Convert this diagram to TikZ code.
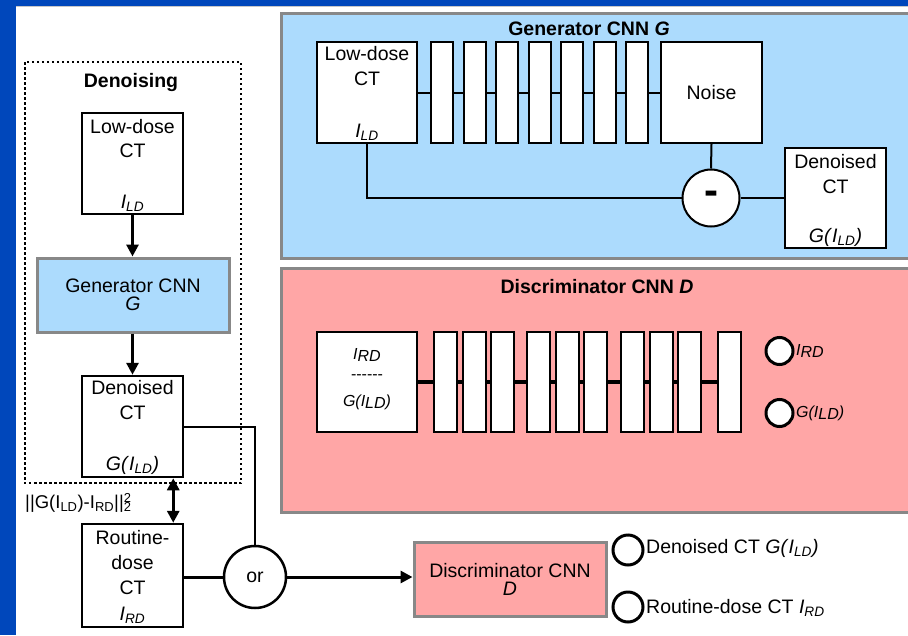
\documentclass[tikz,border=0pt]{standalone}
\usepackage{fontspec}
\setmainfont{Liberation Sans}
\usepackage{tikz}
\usetikzlibrary{arrows.meta,calc}

\definecolor{frameblue}{RGB}{0,71,187}
\definecolor{genblue}{RGB}{172,219,253}
\definecolor{discpink}{RGB}{255,166,166}
\definecolor{panelgrey}{RGB}{136,136,136}

\newcommand{\ILD}{\textit{I}\textsubscript{\textit{LD}}}
\newcommand{\IRD}{\textit{I}\textsubscript{\textit{RD}}}
\newcommand{\dIRD}{\textit{I\raisebox{-2.5pt}{RD}}}
\newcommand{\dILD}{\textit{G(I\raisebox{-2.5pt}{LD})}}
\newcommand{\dashrow}{-\kern0pt-\kern0pt-\kern0pt-\kern0pt-\kern0pt-}

\tikzset{
  txt/.style={inner sep=0pt, font=\fontsize{19.5}{22}\selectfont},
  smalltxt/.style={inner sep=0pt, font=\fontsize{16}{18}\selectfont},
  ttl/.style={inner sep=0pt, font=\fontsize{19.5}{22}\selectfont\bfseries},
  imgbox/.style={draw, line width=2.5pt, fill=white, minimum width=101pt, minimum height=101pt, inner sep=0pt},
  genbox/.style={imgbox, line width=2pt},
  cnnbox/.style={draw=panelgrey, line width=3pt, minimum width=192pt, minimum height=74pt, inner sep=0pt, align=center, font=\fontsize{19.5}{18}\selectfont},
  panel/.style={draw=panelgrey, line width=3pt},
  layer/.style={draw, line width=2pt, fill=white, minimum width=22pt, minimum height=101pt, inner sep=0pt},
  flow/.style={line width=3pt},
  wire/.style={line width=2pt},
  outcircle/.style={circle, draw, line width=3pt, fill=white, minimum size=27pt, inner sep=0pt},
  >={Triangle[length=12pt,width=12pt]}
}

\begin{document}
\begin{tikzpicture}[x=1pt,y=-1pt]
\clip (0,0) rectangle (908,635);
\fill[frameblue] (0,0) rectangle (908,635);
\fill[white] (16,7) rectangle (908,635);
\draw[line width=1pt, black!22] (16,6.5) -- (908,6.5);

% generator
\draw[panel, fill=genblue] (281,13) rectangle (915,258);
\node[ttl] (gtitle) at (589,29) {Generator CNN \textit{G}};
\node[genbox, minimum width=100pt] (gin) at (367,92.5) {};
\node[txt] at (367,54) {Low-dose};
\node[txt] at (367,79) {CT};
\node[txt] at (367,132) {\ILD};
\foreach \i in {1,...,7}
  \node[layer] (gb\i) at ({442+32.5*(\i-1)},92.5) {};
\node[genbox] (noise) at (711.5,92.5) {};
\node[txt] at (711.5,93) {Noise};
\node[circle, draw, line width=2pt, fill=white, minimum size=57pt, inner sep=0pt,
  font=\fontsize{42}{42}\selectfont\bfseries] (minus) at (711,198) {-};
\node[genbox, minimum height=100pt] (gout) at (835.5,198) {};
\node[txt] at (835.5,162) {Denoised};
\node[txt] at (835.5,187) {CT};
\node[txt] at (835.5,237) {\textit{G(}\ILD\textit{)}};
\draw[wire] (gin.east) -- (gb1.west);
\foreach \i [evaluate=\i as \j using int(\i+1)] in {1,...,6}
  \draw[wire] (gb\i.east) -- (gb\j.west);
\draw[wire] (gb7.east) -- (noise.west);
\draw[wire] (noise.south) -- (minus.north);
\draw[wire] (gin.south) |- (minus.west);
\draw[wire] (minus.east) -- (gout.west);

% discriminator
\draw[panel, fill=discpink] (281,268) rectangle (915,512);
\node[ttl] (dtitle) at (597,287) {Discriminator CNN \textit{D}};
\node[imgbox, line width=2pt, minimum width=100pt, minimum height=100pt] (din) at (367,382) {};
\node[smalltxt] at (367,355) {\dIRD};
\node[smalltxt] at (367,377) {\dashrow};
\node[smalltxt] at (367,402) {\dILD};
\foreach \x [count=\i] in {445.5,474.5,502.5,538.5,567.5,595.5,632.5,661.5,689,729.5}
  \node[layer, minimum width=23pt, minimum height=100pt] (db\i) at (\x,382) {};
\draw[line width=3.5pt] (din.east) -- (db1.west);
\foreach \i [evaluate=\i as \j using int(\i+1)] in {1,...,9}
  \draw[line width=3.5pt] (db\i.east) -- (db\j.west);
\node[outcircle] (dreal) at (779.5,351) {};
\node[outcircle] (dfake) at (779.5,413) {};
\node[smalltxt, anchor=west] at (796,351) {\dIRD};
\node[smalltxt, anchor=west] at (796,413) {\dILD};

% denoising column
\draw[line width=2.5pt, dash pattern=on 2.5pt off 2.5pt] (25,62) rectangle (241,483);
\node[ttl] at (131,82) {Denoising};
\node[imgbox] (ld) at (132.5,163.5) {};
\node[txt] at (132.5,127) {Low-dose};
\node[txt] at (132.5,151) {CT};
\node[txt] at (132.5,203) {\ILD};
\node[cnnbox, fill=genblue] (gsmall) at (133,295) {Generator CNN\\\textit{G}};
\node[imgbox] (den) at (132.5,426.5) {};
\node[txt] at (132.5,388) {Denoised};
\node[txt] at (132.5,413) {CT};
\node[txt] at (132.5,465) {\textit{G(}\ILD\textit{)}};
\node[imgbox, minimum height=103pt] (rd) at (132.5,575.5) {};
\node[txt] at (132.5,538) {Routine-};
\node[txt] at (132.5,563) {dose};
\node[txt] at (132.5,588) {CT};
\node[txt] at (132.5,615) {\IRD};
\node[txt, anchor=west, font=\fontsize{18.5}{20}\selectfont] (loss) at (25,503) {||G(I\textsubscript{LD})-I\textsubscript{RD}||\rlap{\textsuperscript{2}}\textsubscript{2}};
\draw[flow,->] (ld.south) -- (ld.south |- gsmall.north);
\draw[flow,->] (ld.south |- gsmall.south) -- (den.north);
\draw[flow,<->] ([xshift=-11pt]den.south east) -- ([xshift=-11pt]rd.north east);

% or + discriminator
\node[circle, draw, line width=2.5pt, fill=white, minimum size=62pt, inner sep=0pt, txt] (orc) at (255,577) {or};
\draw[wire] (den.east) -| (orc.north);
\draw[flow] (rd.east |- orc.west) -- (orc.west);
\node[cnnbox, fill=discpink] (dsmall) at (510,579) {Discriminator CNN\\\textit{D}};
\draw[flow,->] (orc.east) -- (orc.east -| dsmall.west);
\node[outcircle, minimum size=30pt] (pfake) at (628,550) {};
\node[outcircle, minimum size=30pt] (preal) at (628,607) {};
\node[txt, anchor=west] at (646,548) {Denoised CT \textit{G(}\ILD\textit{)}};
\node[txt, anchor=west] at (646,608) {Routine-dose CT \IRD};
\end{tikzpicture}
\end{document}
